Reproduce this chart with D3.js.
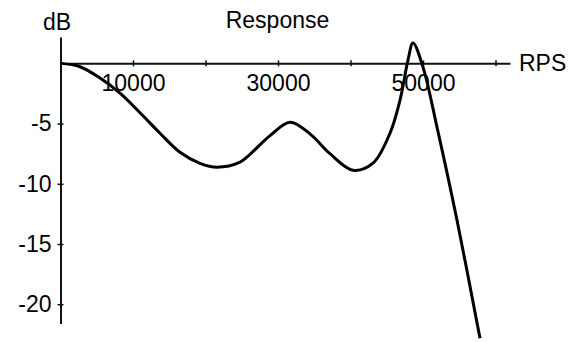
<!DOCTYPE html>
<html>
<head>
<meta charset="utf-8">
<script src="https://cdn.jsdelivr.net/npm/d3@7"></script>
<style>
  body { margin: 0; background: #fff; }
  text { font-family: "Liberation Sans", Arial, sans-serif; fill: #000; }
</style>
</head>
<body>
<svg id="chart" width="578" height="342"></svg>
<script>
// response: RPS vs dB
var rps = [0, 2690, 5450, 8210, 10970, 13720, 16480, 19240, 21590, 24760, 26140,
	28900, 31660, 34410, 37170, 40340, 43100, 45450, 46830, 47930, 48620,
	50000, 51930, 54690, 57860];
var db = [0, -0.28, -1.22, -2.47, -4.10, -5.80, -7.38, -8.30, -8.62, -8.20, -7.55,
	-6.00, -4.88, -5.85, -7.50, -8.87, -8.29, -5.79, -3.05, 0.27, 1.69,
	-0.31, -5.29, -13.02, -22.83];
var xTicks = [10000, 20000, 30000, 40000, 50000, 60000];
var xLabeled = [10000, 30000, 50000];
var yTicks = [-5, -10, -15, -20];

var svg = d3.select("#chart");

var x = d3.scaleLinear().domain([0, 62000]).range([60.5, 510]);
var y = d3.scaleLinear().domain([2.19, -21.6]).range([37, 323.5]);

// x axis sits on 0 dB
var gx = svg.append("g")
	.attr("transform", "translate(0," + y(0) + ")")
	.call(d3.axisBottom(x)
		.tickValues(xTicks)
		.tickSizeOuter(0)
		.tickSizeInner(3)
		.tickPadding(8)
		.tickFormat(function(d){ return xLabeled.indexOf(d) >= 0 ? d : ""; }));
gx.select(".domain").attr("stroke", "#111").attr("stroke-width", 2);
gx.selectAll(".tick line").attr("y1", -3).attr("y2", 3).attr("stroke", "#111").attr("stroke-width", 1.5);
gx.selectAll(".tick text").attr("font-size", 23).attr("fill", "#000");

var gy = svg.append("g")
	.attr("transform", "translate(" + x(0) + ",0)")
	.call(d3.axisLeft(y)
		.tickValues(yTicks)
		.tickSizeOuter(0)
		.tickSizeInner(3)
		.tickPadding(6)
		.tickFormat(function(d){ return "-" + Math.abs(d); }));
gy.select(".domain").attr("stroke", "#111").attr("stroke-width", 2);
gy.selectAll(".tick line").attr("x1", -3).attr("x2", 3).attr("stroke", "#111").attr("stroke-width", 1.5);
gy.selectAll(".tick text").attr("font-size", 23).attr("fill", "#000");

svg.selectAll("g text").attr("font-family", "Liberation Sans, Arial, sans-serif");

// response curve
var pts = d3.zip(rps, db);
var line = d3.line()
	.x(function(d){ return x(d[0]); })
	.y(function(d){ return y(d[1]); })
	.curve(d3.curveCatmullRom.alpha(0.5));

svg.append("path")
	.datum(pts)
	.attr("d", line)
	.attr("fill", "none")
	.attr("stroke", "#000")
	.attr("stroke-width", 3)
	.attr("stroke-linejoin", "round");

// titles
svg.append("text").attr("x", 43).attr("y", 30).attr("font-size", 23).text("dB");
svg.append("text").attr("x", 277.5).attr("y", 28).attr("font-size", 23)
	.attr("text-anchor", "middle").text("Response");
svg.append("text").attr("x", 519).attr("y", 71).attr("font-size", 23).text("RPS");
</script>
</body>
</html>
